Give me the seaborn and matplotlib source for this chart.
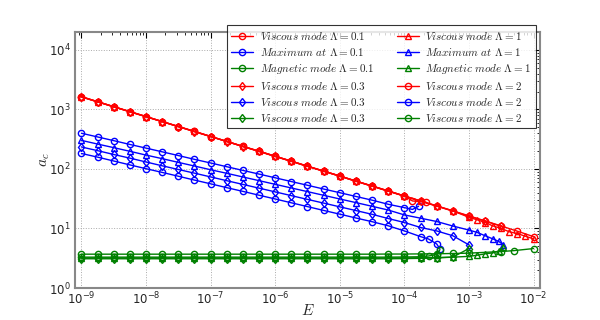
import numpy as np
import matplotlib
matplotlib.use('Agg')
import matplotlib.pyplot as plt
import seaborn as sns

# log10(E) on a quarter-decade grid
E_exp = [-9.0, -8.75, -8.5, -8.25, -8.0, -7.75, -7.5, -7.25, -7.0, -6.75, -6.5, -6.25,
         -6.0, -5.75, -5.5, -5.25, -5.0, -4.75, -4.5, -4.25, -4.0, -3.75, -3.5, -3.25,
         -3.0, -2.75, -2.5, -2.25, -2.0]

# viscous modes (red)
red_01_x = E_exp[:21] + [-3.875, -3.66]
red_01_y = [1630, 1345, 1110, 917, 757, 625, 516, 426, 351, 290, 239, 198, 163, 135, 111,
            92, 76, 62.5, 51.6, 42.6, 35.1, 29.0, 27.5]
red_03_x = E_exp[:27]
red_03_y = [1620, 1340, 1105, 913, 754, 622, 514, 424, 350, 289, 238, 197, 162, 134, 110.5,
            91.5, 75.5, 62, 51.3, 42.3, 34.9, 28.8, 23.7, 19.6, 16.1, 13.3, 10.9]
red_1_x = E_exp[:24] + [-3.0, -2.875, -2.75, -2.625, -2.5, -2.375, -2.25, -2.125, -2.0]
red_1_y = [1640, 1350, 1115, 920, 760, 627, 518, 428, 352, 291, 240, 199, 164, 135.5, 111.5,
           92.3, 76.2, 62.7, 51.8, 42.8, 35.2, 29.1, 24.0, 19.8,
           15.4, 14.0, 12.6, 11.0, 10.0, 8.8, 8.2, 7.4, 6.7]
red_2_x = E_exp[:29]
red_2_y = [1630, 1345, 1110, 917, 757, 625, 516, 426, 351, 290, 239, 198, 163, 135, 111,
           92, 76, 62.5, 51.6, 42.6, 35.1, 29.0, 23.9, 19.8, 16.3, 13.4, 11.0, 9.0, 7.3]

# maxima / viscous modes (blue)
blue_01_x = E_exp[:21] + [-3.875, -3.78]
blue_01_y = [398, 345, 299, 258, 224, 194, 168, 145, 126, 109, 94.5, 82, 71, 61.4, 53.2,
             46, 39.9, 34.5, 29.9, 25.5, 22.4, 20.9, 23.6]
blue_03_x = E_exp[:25]
blue_03_y = [234, 203, 175, 152, 131, 113, 98, 85, 73.5, 63.5, 55, 47.6, 41.2, 35.6, 30.8,
             26.7, 23.1, 20.0, 17.3, 14.7, 12.6, 10.4, 9.1, 7.55, 5.3]
blue_1_x = E_exp[:25] + [-2.875, -2.75, -2.625, -2.54, -2.47]
blue_1_y = [302, 262, 228, 198, 171, 149, 129, 112, 97, 84.5, 73.3, 63.6, 55.2, 47.9, 41.6,
            36.1, 31.3, 27.2, 23.6, 20.4, 16.9, 14.9, 13.1, 11.0, 9.4,
            8.6, 7.55, 6.65, 6.07, 5.35]
blue_2_x = E_exp[:22] + [-3.625, -3.5, -3.45]
blue_2_y = [182, 158, 136, 117, 101, 87.5, 75.5, 65, 56.3, 48.5, 42, 36.2, 31.3, 27, 23.3,
            20.1, 17.4, 15.0, 13.0, 11.1, 9.1, 7.3, 6.65, 5.5, 4.55]

# magnetic / viscous modes (green)
green_01_x = E_exp[:25] + [-2.5, -2.3, -2.0]
green_01_y = [3.7, 3.7, 3.7, 3.7, 3.7, 3.7, 3.7, 3.7, 3.7, 3.7, 3.7, 3.7, 3.7, 3.7, 3.7,
              3.7, 3.7, 3.7, 3.7, 3.72, 3.72, 3.74, 3.76, 3.8, 3.85, 4.1, 4.25, 4.6]
green_03_x = E_exp[:25]
green_03_y = [3.1, 3.1, 3.1, 3.1, 3.1, 3.1, 3.1, 3.1, 3.1, 3.1, 3.1, 3.1, 3.1, 3.1, 3.1,
              3.1, 3.1, 3.1, 3.1, 3.1, 3.12, 3.15, 3.2, 3.3, 4.6]
green_1_x = E_exp[:25] + [-2.875, -2.75, -2.625, -2.54, -2.47]
green_1_y = [3.2, 3.2, 3.2, 3.2, 3.2, 3.2, 3.2, 3.2, 3.2, 3.2, 3.2, 3.2, 3.2, 3.2, 3.2,
             3.2, 3.2, 3.2, 3.2, 3.2, 3.2, 3.22, 3.25, 3.3, 3.4,
             3.55, 3.75, 3.9, 4.2, 4.9]
green_2_x = E_exp[:22] + [-3.625, -3.5, -3.45]
green_2_y = [3.3, 3.3, 3.3, 3.3, 3.3, 3.3, 3.3, 3.3, 3.3, 3.3, 3.3, 3.3, 3.3, 3.3, 3.3,
             3.3, 3.3, 3.3, 3.3, 3.3, 3.32, 3.35, 3.45, 3.65, 4.4]

series = [
    (red_01_x, red_01_y, 'r', 'o', r'$Viscous\ mode\ \Lambda=0.1$'),
    (blue_01_x, blue_01_y, 'b', 'o', r'$Maximum\ at\ \Lambda=0.1$'),
    (green_01_x, green_01_y, 'g', 'o', r'$Magnetic\ mode\ \Lambda=0.1$'),
    (red_03_x, red_03_y, 'r', 'd', r'$Viscous\ mode\ \Lambda=0.3$'),
    (blue_03_x, blue_03_y, 'b', 'd', r'$Viscous\ mode\ \Lambda=0.3$'),
    (green_03_x, green_03_y, 'g', 'd', r'$Viscous\ mode\ \Lambda=0.3$'),
    (red_1_x, red_1_y, 'r', '^', r'$Viscous\ mode\ \Lambda=1$'),
    (blue_1_x, blue_1_y, 'b', '^', r'$Maximum\ at\ \Lambda=1$'),
    (green_1_x, green_1_y, 'g', '^', r'$Magnetic\ mode\ \Lambda=1$'),
    (red_2_x, red_2_y, 'r', 'o', r'$Viscous\ mode\ \Lambda=2$'),
    (blue_2_x, blue_2_y, 'b', 'o', r'$Viscous\ mode\ \Lambda=2$'),
    (green_2_x, green_2_y, 'g', 'o', r'$Viscous\ mode\ \Lambda=2$'),
]

sns.set_style('white')
plt.rcParams['font.family'] = ['DejaVu Sans']
plt.rcParams['xtick.direction'] = 'in'
plt.rcParams['ytick.direction'] = 'in'

fig, ax = plt.subplots(figsize=(6, 3.2), dpi=100)
fig.subplots_adjust(left=0.125, right=0.9, bottom=0.1, top=0.9)

for xs, ys, col, mk, lab in series:
    sns.lineplot(x=10.0 ** np.array(xs), y=ys, ax=ax, color=col, marker=mk, lw=1,
                 markersize=4.5, markerfacecolor='none', markeredgecolor=col,
                 markeredgewidth=1, label=lab, sort=False)

ax.set_xscale('log')
ax.set_yscale('log')
ax.set_xlim(10 ** -9.1, 10 ** -1.9)
ax.set_ylim(1, 2e4)
ax.grid(True, which='major', color='#aaaaaa', ls=':', lw=0.7)

for sp in ax.spines.values():
    sp.set_color('#888888')
    sp.set_linewidth(1.5)
ax.tick_params(which='both', direction='in', top=True, right=True, labelsize=8.5, color='k')
ax.tick_params(which='major', length=4)
ax.tick_params(which='minor', length=2)
ax.tick_params(axis='x', pad=2)
ax.tick_params(axis='y', pad=3)

ax.set_xlabel(r'$E$', fontsize=11, math_fontfamily='cm', labelpad=-3)
ax.set_ylabel(r'$a_c$', fontsize=11, math_fontfamily='cm', labelpad=-2)

leg = ax.legend(loc='upper right', bbox_to_anchor=(0.991, 1.027), ncol=2,
                prop=dict(size=8, math_fontfamily='cm'), fancybox=False,
                frameon=True, handlelength=2.0, columnspacing=2.0,
                labelspacing=0.36, borderpad=0.4, handletextpad=0.6,
                borderaxespad=0)
leg.get_frame().set_edgecolor('k')
leg.get_frame().set_linewidth(0.8)

fig.savefig('out.png', dpi=100)
